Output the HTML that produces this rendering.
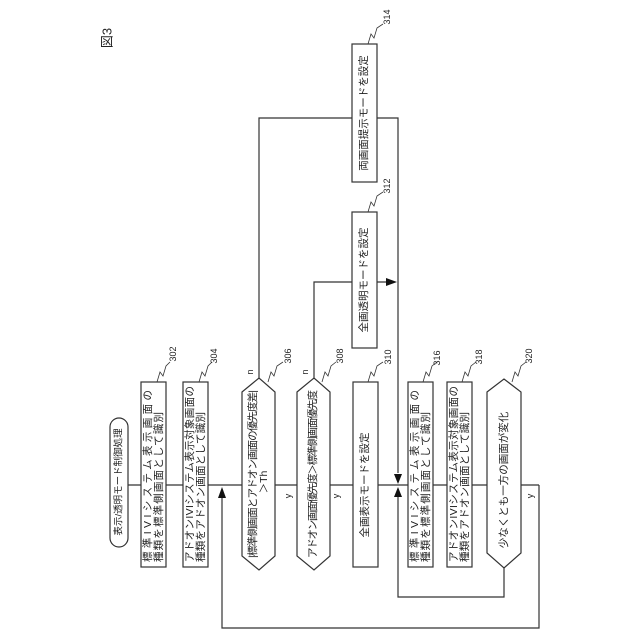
<!DOCTYPE html>
<html><head><meta charset="utf-8"><style>html,body{margin:0;padding:0;background:#fff}svg{display:block}</style></head>
<body>
<svg width="640" height="640" viewBox="0 0 640 640" xmlns="http://www.w3.org/2000/svg" font-family="'Liberation Sans','Noto Sans CJK JP',sans-serif" fill="#222">
<g stroke="#333" stroke-width="1.2" fill="none">
<line x1="128" y1="485" x2="539" y2="485"/>
<polyline points="539,485 539,628 222,628 222,497"/>
<polyline points="504,568 504,597 398,597 398,497"/>
<polyline points="259,378 259,118 398,118 398,473"/>
<polyline points="314,378 314,282 388,282"/>
</g>
<g fill="#111">
<polygon points="222,487 218,498 226,498"/>
<polygon points="398,484 394,474 402,474"/>
<polygon points="398,487 394,497 402,497"/>
<polygon points="397,282 386,278 386,286"/>
</g>
<g stroke="#333" stroke-width="1.2" fill="#fff">
<rect x="110" y="418" width="18" height="129" rx="9"/>
<rect x="141" y="382" width="25" height="185"/>
<rect x="183" y="382" width="25" height="185"/>
<polygon points="242,392 259,378 275,392 275,556 259,570 242,556"/>
<polygon points="297,392 314,378 330,392 330,556 314,570 297,556"/>
<rect x="353" y="382" width="25" height="185"/>
<rect x="352" y="212" width="25" height="136"/>
<rect x="352" y="44" width="25" height="138"/>
<rect x="408" y="382" width="25" height="185"/>
<rect x="447" y="382" width="25" height="185"/>
<polygon points="487,392 504,379 521,392 521,553 504,568 487,553"/>
</g>
<g stroke="#333" stroke-width="0.8" fill="none">
<polyline points="157,382 160,372 163,376 166,366 170,362"/>
<polyline points="199,382 202,372 205,376 208,366 212,362"/>
<polyline points="268,382 271,372 274,376 277,366 283,362"/>
<polyline points="322,382 325,372 328,376 331,366 336,362"/>
<polyline points="368,382 371,372 374,376 377,366 383,362"/>
<polyline points="368,212 371,202 374,206 377,196 383,192"/>
<polyline points="368,44 371,34 374,38 377,28 383,24"/>
<polyline points="423,382 426,372 429,376 432,366 437,362"/>
<polyline points="462,382 465,372 468,376 471,366 476,362"/>
<polyline points="512,382 515,372 518,376 521,366 526,362"/>
</g>
<g font-size="10.5" dominant-baseline="central">
<text transform="translate(107,38) rotate(-90)" text-anchor="middle" font-size="13">図3</text>
<text transform="translate(119,482) rotate(-90)" text-anchor="middle" font-size="9.5">表示/透明モード制御処理</text>
<text transform="translate(148,562) rotate(-90)" textLength="172">標準IVIシステム表示画面の</text>
<text transform="translate(159,562) rotate(-90)" textLength="150">種類を標準側画面として識別</text>
<text transform="translate(190,562) rotate(-90)" textLength="176">アドオンIVIシステム表示対象画面の</text>
<text transform="translate(201,562) rotate(-90)" textLength="150">種類をアドオン画面として識別</text>
<text transform="translate(253,474) rotate(-90)" text-anchor="middle" textLength="168">|標準側画面とアドオン画面の優先度差|</text>
<text transform="translate(264,482) rotate(-90)" text-anchor="middle">＞Th</text>
<text transform="translate(313,474) rotate(-90)" text-anchor="middle" textLength="168">アドオン画面優先度＞標準側画面優先度</text>
<text transform="translate(365,485) rotate(-90)" text-anchor="middle">全画表示モードを設定</text>
<text transform="translate(364,280) rotate(-90)" text-anchor="middle">全画透明モードを設定</text>
<text transform="translate(364,113) rotate(-90)" text-anchor="middle">両画面提示モードを設定</text>
<text transform="translate(415,562) rotate(-90)" textLength="172">標準IVIシステム表示画面の</text>
<text transform="translate(426,562) rotate(-90)" textLength="150">種類を標準側画面として識別</text>
<text transform="translate(454,562) rotate(-90)" textLength="176">アドオンIVIシステム表示対象画面の</text>
<text transform="translate(465,562) rotate(-90)" textLength="150">種類をアドオン画面として識別</text>
<text transform="translate(504,480) rotate(-90)" text-anchor="middle">少なくとも一方の画面が変化</text>
</g>
<g font-size="9" dominant-baseline="central" text-anchor="middle">
<text transform="translate(173,354) rotate(-90)">302</text>
<text transform="translate(214,356) rotate(-90)">304</text>
<text transform="translate(288,356) rotate(-90)">306</text>
<text transform="translate(340,356) rotate(-90)">308</text>
<text transform="translate(388,357) rotate(-90)">310</text>
<text transform="translate(387,186) rotate(-90)">312</text>
<text transform="translate(387,17) rotate(-90)">314</text>
<text transform="translate(437,358) rotate(-90)">316</text>
<text transform="translate(479,357) rotate(-90)">318</text>
<text transform="translate(529,356) rotate(-90)">320</text>
<text transform="translate(250,372) rotate(-90)">n</text>
<text transform="translate(305,372) rotate(-90)">n</text>
<text transform="translate(288,496) rotate(-90)">y</text>
<text transform="translate(336,496) rotate(-90)">y</text>
<text transform="translate(530,496) rotate(-90)">y</text>
</g>
</svg>
</body></html>
